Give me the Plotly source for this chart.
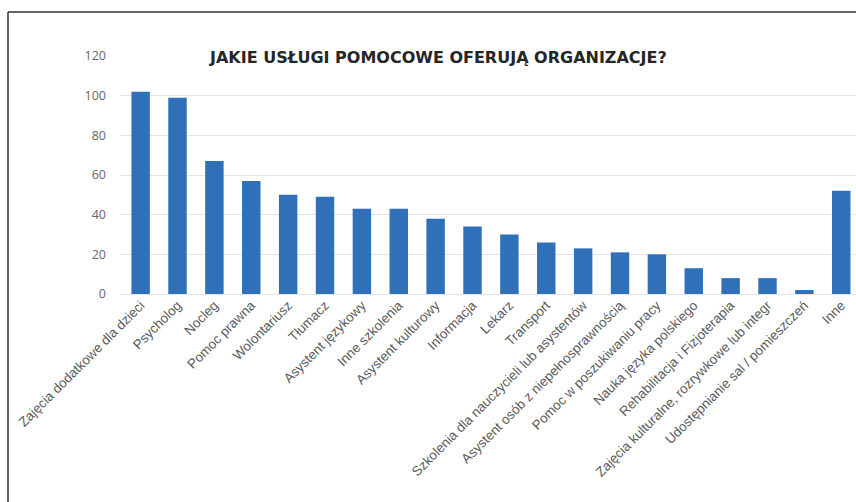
import plotly.graph_objects as go

# Services offered by organisations and the number of organisations offering each
categories = [
    "Zajęcia dodatkowe dla dzieci", "Psycholog", "Nocleg", "Pomoc prawna",
    "Wolontariusz", "Tłumacz", "Asystent językowy", "Inne szkolenia",
    "Asystent kulturowy", "Informacja", "Lekarz", "Transport",
    "Szkolenia dla nauczycieli lub asystentów",
    "Asystent osób z niepełnosprawnością", "Pomoc w poszukiwaniu pracy",
    "Nauka języka polskiego", "Rehabilitacja i Fizjoterapia",
    "Zajęcia kulturalne, rozrywkowe lub integr",
    "Udostępnianie sal / pomieszczeń", "Inne",
]
counts = [102, 99, 67, 57, 50, 49, 43, 43, 38, 34, 30, 26, 23, 21, 20, 13, 8, 8, 2, 52]
y_ticks = [0, 20, 40, 60, 80, 100, 120]
title_text = "JAKIE USŁUGI POMOCOWE OFERUJĄ ORGANIZACJE?"

W, H = 856, 502
ML, MR, MT, MB = 120, 0, 56, 208
pw = W - ML - MR
ph = H - MT - MB

def px_x(p):
    return (p - ML) / pw

def px_y(p):
    return 1 - (p - MT) / ph

fig = go.Figure(
    go.Bar(
        x=categories,
        y=counts,
        marker=dict(color="#2f70b8", line=dict(width=0)),
        width=0.5,
    )
)

fig.update_layout(
    width=W,
    height=H,
    margin=dict(l=ML, r=MR, t=MT, b=MB),
    paper_bgcolor="white",
    plot_bgcolor="white",
    showlegend=False,
    xaxis=dict(
        range=[-0.56, 19.4],
        tickangle=-45,
        tickfont=dict(family="Liberation Sans", size=13.4, color="#5a5a5a"),
        showgrid=False,
        showline=False,
        zeroline=False,
        ticks="",
    ),
    yaxis=dict(
        range=[0, 120],
        tickvals=y_ticks,
        tickfont=dict(family="Open Sans", size=12.5, color="#666666"),
        showgrid=True,
        gridcolor="#e4e4e4",
        gridwidth=1,
        zeroline=True,
        zerolinecolor="#e4e4e4",
        zerolinewidth=1,
        showline=False,
        ticks="",
        ticklabelstandoff=13,
    ),
    annotations=[
        dict(
            text=f"<b>{title_text}</b>",
            x=px_x(438), y=px_y(58),
            xref="paper", yref="paper",
            xanchor="center", yanchor="middle",
            showarrow=False,
            bgcolor="white",
            borderpad=10,
            font=dict(family="DejaVu Sans", size=16, color="#262626"),
        )
    ],
    shapes=[
        # frame lines along the top and left edges
        dict(type="line", xref="paper", yref="paper",
             x0=px_x(8), x1=px_x(W + 2), y0=px_y(12), y1=px_y(12),
             line=dict(color="#333333", width=1.5)),
        dict(type="line", xref="paper", yref="paper",
             x0=px_x(8), x1=px_x(8), y0=px_y(12), y1=px_y(H + 2),
             line=dict(color="#333333", width=1.5)),
    ],
)

fig.write_html("out.html")
